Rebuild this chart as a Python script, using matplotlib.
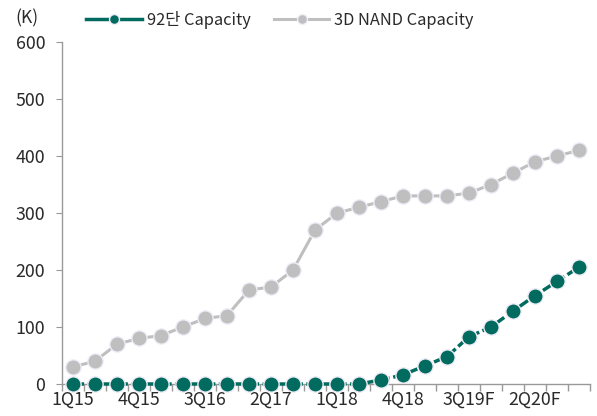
import matplotlib.pyplot as plt
from matplotlib.ticker import FixedLocator

plt.rcParams['font.family'] = ['Noto Sans CJK KR', 'DejaVu Sans']

quarters = ['1Q15', '2Q15', '3Q15', '4Q15', '1Q16', '2Q16', '3Q16', '4Q16',
            '1Q17', '2Q17', '3Q17', '4Q17', '1Q18', '2Q18', '3Q18', '4Q18',
            '1Q19F', '2Q19F', '3Q19F', '4Q19F', '1Q20F', '2Q20F', '3Q20F', '4Q20F']
cap_92 = [0, 0, 0, 0, 0, 0, 0, 0, 0, 0, 0, 0, 0, 0, 7, 16,
          32, 48, 83, 100, 128, 155, 180, 205]
cap_3d = [30, 40, 70, 80, 85, 100, 115, 120, 165, 170, 200, 270,
          300, 310, 320, 330, 330, 330, 335, 350, 370, 390, 400, 410]

green = '#006B5E'
gray = '#BFBFBF'
txt = '#2a2a2a'

fig = plt.figure(figsize=(5.97, 4.16), dpi=100)
ax = fig.add_axes([62 / 597, 1 - 384 / 416, 528 / 597, 342 / 416])

x = list(range(len(quarters)))
ax.plot(x, cap_3d, color=gray, lw=2.2, marker='o', ms=11,
        markeredgecolor='#F0ECF8', markeredgewidth=1, label='3D NAND Capacity', zorder=3)
ax.plot(x, cap_92, color=green, lw=2.5, ls=(0, (3.2, 1)), marker='o', ms=11,
        markeredgecolor='#F0ECF8', markeredgewidth=1, label='92단 Capacity', zorder=4)

ax.set_xlim(-0.5, len(quarters) - 0.5)
ax.set_ylim(0, 600)
ax.set_yticks(range(0, 601, 100))
ax.set_xticks(x[::3])
ax.set_xticklabels(quarters[::3])
ax.xaxis.set_minor_locator(FixedLocator([i - 0.5 for i in range(len(quarters) + 1)]))
ax.tick_params(axis='x', which='major', length=0, labelsize=12.8, pad=5, colors=txt)
ax.tick_params(axis='x', which='minor', length=5, color='#999999', width=1)
ax.tick_params(axis='y', length=4, color='#999999', labelsize=12.8, pad=8, colors=txt)

for s in ['top', 'right']:
    ax.spines[s].set_visible(False)
for s in ['left', 'bottom']:
    ax.spines[s].set_color('#999999')
    ax.spines[s].set_linewidth(1)
for ln in ax.lines:
    ln.set_clip_on(False)

fig.text(27 / 597, 1 - 18 / 416, '(K)', fontsize=12.5, color=txt, va='center', ha='center')

handles, labels = ax.get_legend_handles_labels()
leg = fig.legend(handles[::-1], labels[::-1], loc='center', bbox_to_anchor=(280 / 597, 1 - 20 / 416),
                 ncol=2, frameon=False, fontsize=11.8, handlelength=3.4, columnspacing=1.4,
                 handletextpad=0.3, markerscale=0.65, labelcolor=txt)
for h in leg.legend_handles:
    h.set_linestyle('-')

fig.savefig('out.png', dpi=100)
